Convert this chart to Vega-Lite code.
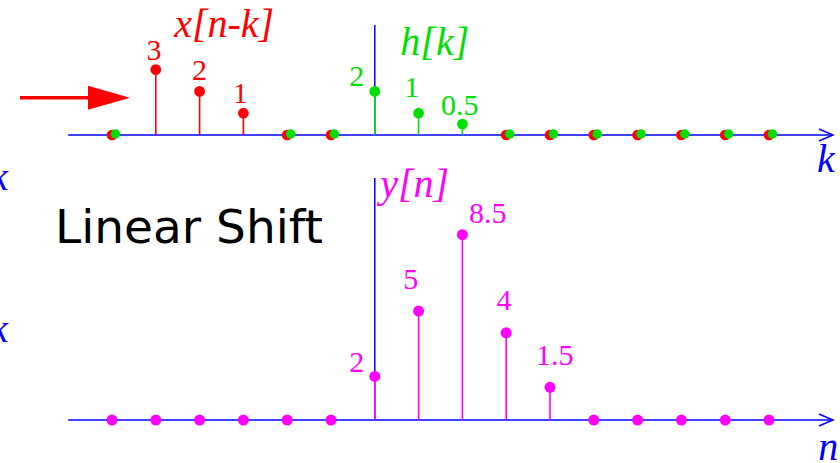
{
  "$schema": "https://vega.github.io/schema/vega-lite/v6.json",
  "width": 840,
  "height": 463,
  "autosize": {"type": "none"},
  "padding": 0,
  "background": "white",
  "config": {"view": {"stroke": null}},
  "datasets": {
    "xs": [
      {"x": -6, "y": 0}, {"x": -5, "y": 3}, {"x": -4, "y": 2}, {"x": -3, "y": 1},
      {"x": -2, "y": 0}, {"x": -1, "y": 0}, {"x": 3, "y": 0}, {"x": 4, "y": 0},
      {"x": 5, "y": 0}, {"x": 6, "y": 0}, {"x": 7, "y": 0}, {"x": 8, "y": 0}, {"x": 9, "y": 0}
    ],
    "hs": [
      {"x": -6, "y": 0}, {"x": -2, "y": 0}, {"x": -1, "y": 0}, {"x": 0, "y": 2},
      {"x": 1, "y": 1}, {"x": 2, "y": 0.5}, {"x": 3, "y": 0}, {"x": 4, "y": 0},
      {"x": 5, "y": 0}, {"x": 6, "y": 0}, {"x": 7, "y": 0}, {"x": 8, "y": 0}, {"x": 9, "y": 0}
    ],
    "ys": [
      {"x": -6, "y": 0}, {"x": -5, "y": 0}, {"x": -4, "y": 0}, {"x": -3, "y": 0},
      {"x": -2, "y": 0}, {"x": -1, "y": 0}, {"x": 0, "y": 2}, {"x": 1, "y": 5},
      {"x": 2, "y": 8.5}, {"x": 3, "y": 4}, {"x": 4, "y": 1.5}, {"x": 5, "y": 0},
      {"x": 6, "y": 0}, {"x": 7, "y": 0}, {"x": 8, "y": 0}, {"x": 9, "y": 0}
    ],
    "topNums": [
      {"x": -5.04, "y": 3.44, "t": "3", "c": "#ff0000"},
      {"x": -4.0, "y": 2.52, "t": "2", "c": "#ff0000"},
      {"x": -3.07, "y": 1.47, "t": "1", "c": "#ff0000"},
      {"x": -0.41, "y": 2.25, "t": "2", "c": "#00e000"},
      {"x": 0.845, "y": 1.74, "t": "1", "c": "#00e000"},
      {"x": 1.94, "y": 0.92, "t": "0.5", "c": "#00e000"}
    ],
    "topNames": [
      {"x": -3.44, "y": 4.5, "t": "x[n-k]", "c": "#ff0000"},
      {"x": 1.37, "y": 3.67, "t": "h[k]", "c": "#00e000"},
      {"x": 10.3, "y": -1.7, "t": "k", "c": "#0000ff"},
      {"x": -8.58, "y": -2.52, "t": "k", "c": "#0000ff"}
    ],
    "botNums": [
      {"x": -0.41, "y": 2.2, "t": "2"},
      {"x": 0.82, "y": 6.0, "t": "5"},
      {"x": 2.58, "y": 9.04, "t": "8.5"},
      {"x": 2.95, "y": 5.05, "t": "4"},
      {"x": 4.11, "y": 2.52, "t": "1.5"}
    ],
    "botNames": [
      {"x": 0.91, "y": 10.23, "t": "y[n]", "c": "#ff00ff"},
      {"x": 10.35, "y": -1.83, "t": "n", "c": "#0000ff"},
      {"x": -8.58, "y": 3.58, "t": "k", "c": "#0000ff"}
    ]
  },
  "resolve": {"scale": {"y": "independent"}},
  "layer": [
    {
      "data": {"values": [{}]},
      "encoding": {
        "x": {"field": "x", "type": "quantitative", "scale": {"domain": [-8.557, 10.621], "nice": false, "zero": false}, "axis": null},
        "y": {"field": "y", "type": "quantitative", "scale": {"domain": [-15.046, 6.193], "nice": false, "zero": false}, "axis": null}
      },
      "layer": [
        {
          "data": {"values": [{"x": -7, "x2": 10.45, "y": 0}]},
          "mark": {"type": "rule", "color": "#0000ff", "strokeWidth": 1.5},
          "encoding": {"x2": {"field": "x2"}}
        },
        {
          "data": {"values": [{"x": 0, "y": 0, "y2": 5.05}]},
          "mark": {"type": "rule", "color": "#0000ff", "strokeWidth": 1.5},
          "encoding": {"y2": {"field": "y2"}}
        },
        {
          "data": {"values": [{"x": 10.3, "y": 0}]},
          "mark": {"type": "point", "shape": "M-1,-0.85L1,0L-1,0.85", "filled": false, "stroke": "#0000ff", "strokeWidth": 1.5, "size": 196, "opacity": 1},
          "encoding": {}
        },
        {
          "data": {"name": "xs"},
          "mark": {"type": "rule", "color": "#ff0000", "strokeWidth": 1.6},
          "encoding": {"y2": {"datum": 0}}
        },
        {
          "data": {"name": "hs"},
          "mark": {"type": "rule", "color": "#00e000", "strokeWidth": 1.6},
          "encoding": {"y2": {"datum": 0}}
        },
        {
          "data": {"name": "xs"},
          "mark": {"type": "circle", "color": "#ff0000", "size": 115, "opacity": 1},
          "encoding": {}
        },
        {
          "data": {"name": "hs"},
          "transform": [{"filter": "datum.y != 0"}],
          "mark": {"type": "circle", "color": "#00e000", "size": 115, "opacity": 1},
          "encoding": {}
        },
        {
          "data": {"name": "hs"},
          "transform": [{"filter": "datum.y == 0"}],
          "mark": {"type": "circle", "color": "#00e000", "size": 90, "opacity": 1, "xOffset": 3.5, "yOffset": -1},
          "encoding": {}
        },
        {
          "data": {"name": "topNums"},
          "mark": {"type": "text", "font": "Liberation Serif", "fontSize": 30, "align": "center", "baseline": "alphabetic"},
          "encoding": {"text": {"field": "t"}, "color": {"field": "c", "type": "nominal", "scale": null}}
        },
        {
          "data": {"name": "topNames"},
          "mark": {"type": "text", "font": "Liberation Serif", "fontStyle": "italic", "fontSize": 40, "align": "center", "baseline": "alphabetic"},
          "encoding": {"text": {"field": "t"}, "color": {"field": "c", "type": "nominal", "scale": null}}
        },
        {
          "data": {"values": [{"x": -8.1, "x2": -6.45, "y": 1.71}]},
          "mark": {"type": "rule", "color": "#ff0000", "strokeWidth": 3.5},
          "encoding": {"x2": {"field": "x2"}}
        },
        {
          "data": {"values": [{"x": -6.068, "y": 1.71}]},
          "mark": {"type": "point", "shape": "M-1,-0.571L1,0L-1,0.571Z", "filled": true, "color": "#ff0000", "size": 1764, "opacity": 1},
          "encoding": {}
        }
      ]
    },
    {
      "data": {"values": [{}]},
      "encoding": {
        "x": {"field": "x", "type": "quantitative", "scale": {"domain": [-8.557, 10.621], "nice": false, "zero": false}, "axis": null},
        "y": {"field": "y", "type": "quantitative", "scale": {"domain": [-1.972, 19.266], "nice": false, "zero": false}, "axis": null}
      },
      "layer": [
        {
          "data": {"values": [{"x": -7, "x2": 10.45, "y": 0}]},
          "mark": {"type": "rule", "color": "#0000ff", "strokeWidth": 1.5},
          "encoding": {"x2": {"field": "x2"}}
        },
        {
          "data": {"values": [{"x": 0, "y": 0, "y2": 11.1}]},
          "mark": {"type": "rule", "color": "#0000ff", "strokeWidth": 1.5},
          "encoding": {"y2": {"field": "y2"}}
        },
        {
          "data": {"values": [{"x": 10.3, "y": 0}]},
          "mark": {"type": "point", "shape": "M-1,-0.85L1,0L-1,0.85", "filled": false, "stroke": "#0000ff", "strokeWidth": 1.5, "size": 196, "opacity": 1},
          "encoding": {}
        },
        {
          "data": {"name": "ys"},
          "mark": {"type": "rule", "color": "#ff00ff", "strokeWidth": 1.6},
          "encoding": {"y2": {"datum": 0}}
        },
        {
          "data": {"name": "ys"},
          "mark": {"type": "circle", "color": "#ff00ff", "size": 120, "opacity": 1},
          "encoding": {}
        },
        {
          "data": {"name": "botNums"},
          "mark": {"type": "text", "font": "Liberation Serif", "fontSize": 30, "align": "center", "baseline": "alphabetic", "color": "#ff00ff"},
          "encoding": {"text": {"field": "t"}}
        },
        {
          "data": {"name": "botNames"},
          "mark": {"type": "text", "font": "Liberation Serif", "fontStyle": "italic", "fontSize": 40, "align": "center", "baseline": "alphabetic"},
          "encoding": {"text": {"field": "t"}, "color": {"field": "c", "type": "nominal", "scale": null}}
        },
        {
          "data": {"values": [{"x": -7.3, "y": 8.12, "t": "Linear Shift"}]},
          "mark": {"type": "text", "font": "DejaVu Sans", "fontSize": 47, "align": "left", "baseline": "alphabetic", "color": "#000000"},
          "encoding": {"text": {"field": "t"}}
        }
      ]
    }
  ]
}
